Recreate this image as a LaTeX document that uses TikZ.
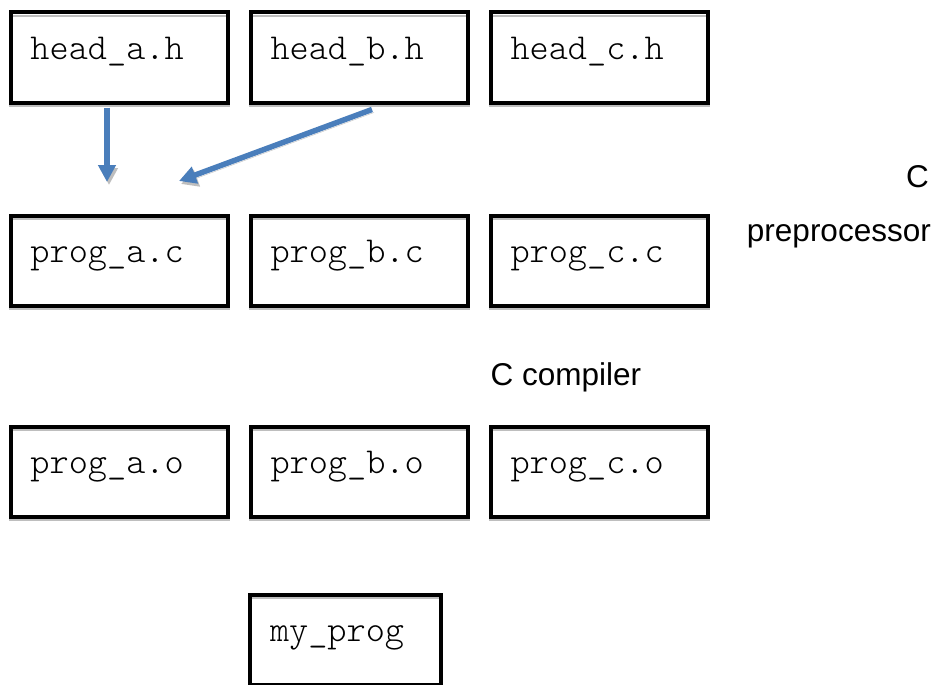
\documentclass[tikz,border=0pt]{standalone}
\usepackage{fontspec}
\setmainfont{Liberation Sans}
\usetikzlibrary{arrows.meta}
\definecolor{flowblue}{RGB}{74,126,187}
\definecolor{shadegray}{RGB}{190,190,190}
% light typewriter face for the file names
\newcommand{\filefont}{\ttfamily\fontseries{l}\fontsize{36.5}{40}\selectfont}
\begin{document}
\begin{tikzpicture}[x=1pt,y=-1pt,
  filebox/.style={draw=black, line width=4pt, rectangle, outer sep=0pt,
    inner ysep=0pt, inner xsep=20pt, text width=177pt,
    minimum width=217pt, minimum height=90pt,
    text height=47pt, text depth=43pt, align=left,
    font=\filefont},
  stepname/.style={inner sep=0pt, font=\fontsize{31.5}{36}\selectfont},
  boxshade/.style={draw=shadegray, line width=2.5pt},
  flow/.style={draw=flowblue, line width=5.5pt,
    -{Triangle[width=17pt,length=17pt]},
    preaction={draw=shadegray, -{Triangle[width=17pt,length=17pt]},
      transform canvas={shift={(2pt,-3pt)}}}}]
\clip (0,0) rectangle (934,685);
\fill[white] (0,0) rectangle (934,685);

% header files
\node[filebox] (ha) at (119,57.5) {head\_a.h};
\node[filebox] (hb) at (359,57.5) {head\_b.h};
\node[filebox] (hc) at (599,57.5) {head\_c.h};
% source files
\node[filebox] (pa) at (119,260.5) {prog\_a.c};
\node[filebox] (pb) at (359,260.5) {prog\_b.c};
\node[filebox] (pc) at (599,260.5) {prog\_c.c};
% object files
\node[filebox] (oa) at (119,471.5) {prog\_a.o};
\node[filebox] (ob) at (359,471.5) {prog\_b.o};
\node[filebox] (oc) at (599,471.5) {prog\_c.o};
% linked program
\node[filebox, minimum width=191pt, text width=151pt] (mp) at (345.5,639.5) {my\_prog};

% thin grey shading under the top edge and below each box
\foreach \n in {ha,hb,hc,pa,pb,pc,oa,ob,oc} {
  \draw[boxshade] ([shift={(-2,3.5)}]\n.south west) -- ([shift={(2,3.5)}]\n.south east);
  \draw[boxshade, line width=2pt] ([shift={(2,3.5)}]\n.north west) -- ([shift={(-2,3.5)}]\n.north east);
}
\draw[boxshade, line width=2pt] ([shift={(2,3.5)}]mp.north west) -- ([shift={(-2,3.5)}]mp.north east);

% processing steps
\node[stepname, anchor=base east] (cpp1) at (929,187) {C};
\node[stepname, anchor=base east] (cpp2) at (931,241) {preprocessor};
\node[stepname, anchor=base west] (cc) at (490.5,385) {C compiler};

% include arrows
\coordinate (ta) at (107,182);
\coordinate (tb) at (179,181);
\draw[flow] ([shift={(-12,5)}]ha.south) -- (ta);
\draw[flow] ([shift={(13,7)}]hb.south) -- (tb);
\end{tikzpicture}
\end{document}
